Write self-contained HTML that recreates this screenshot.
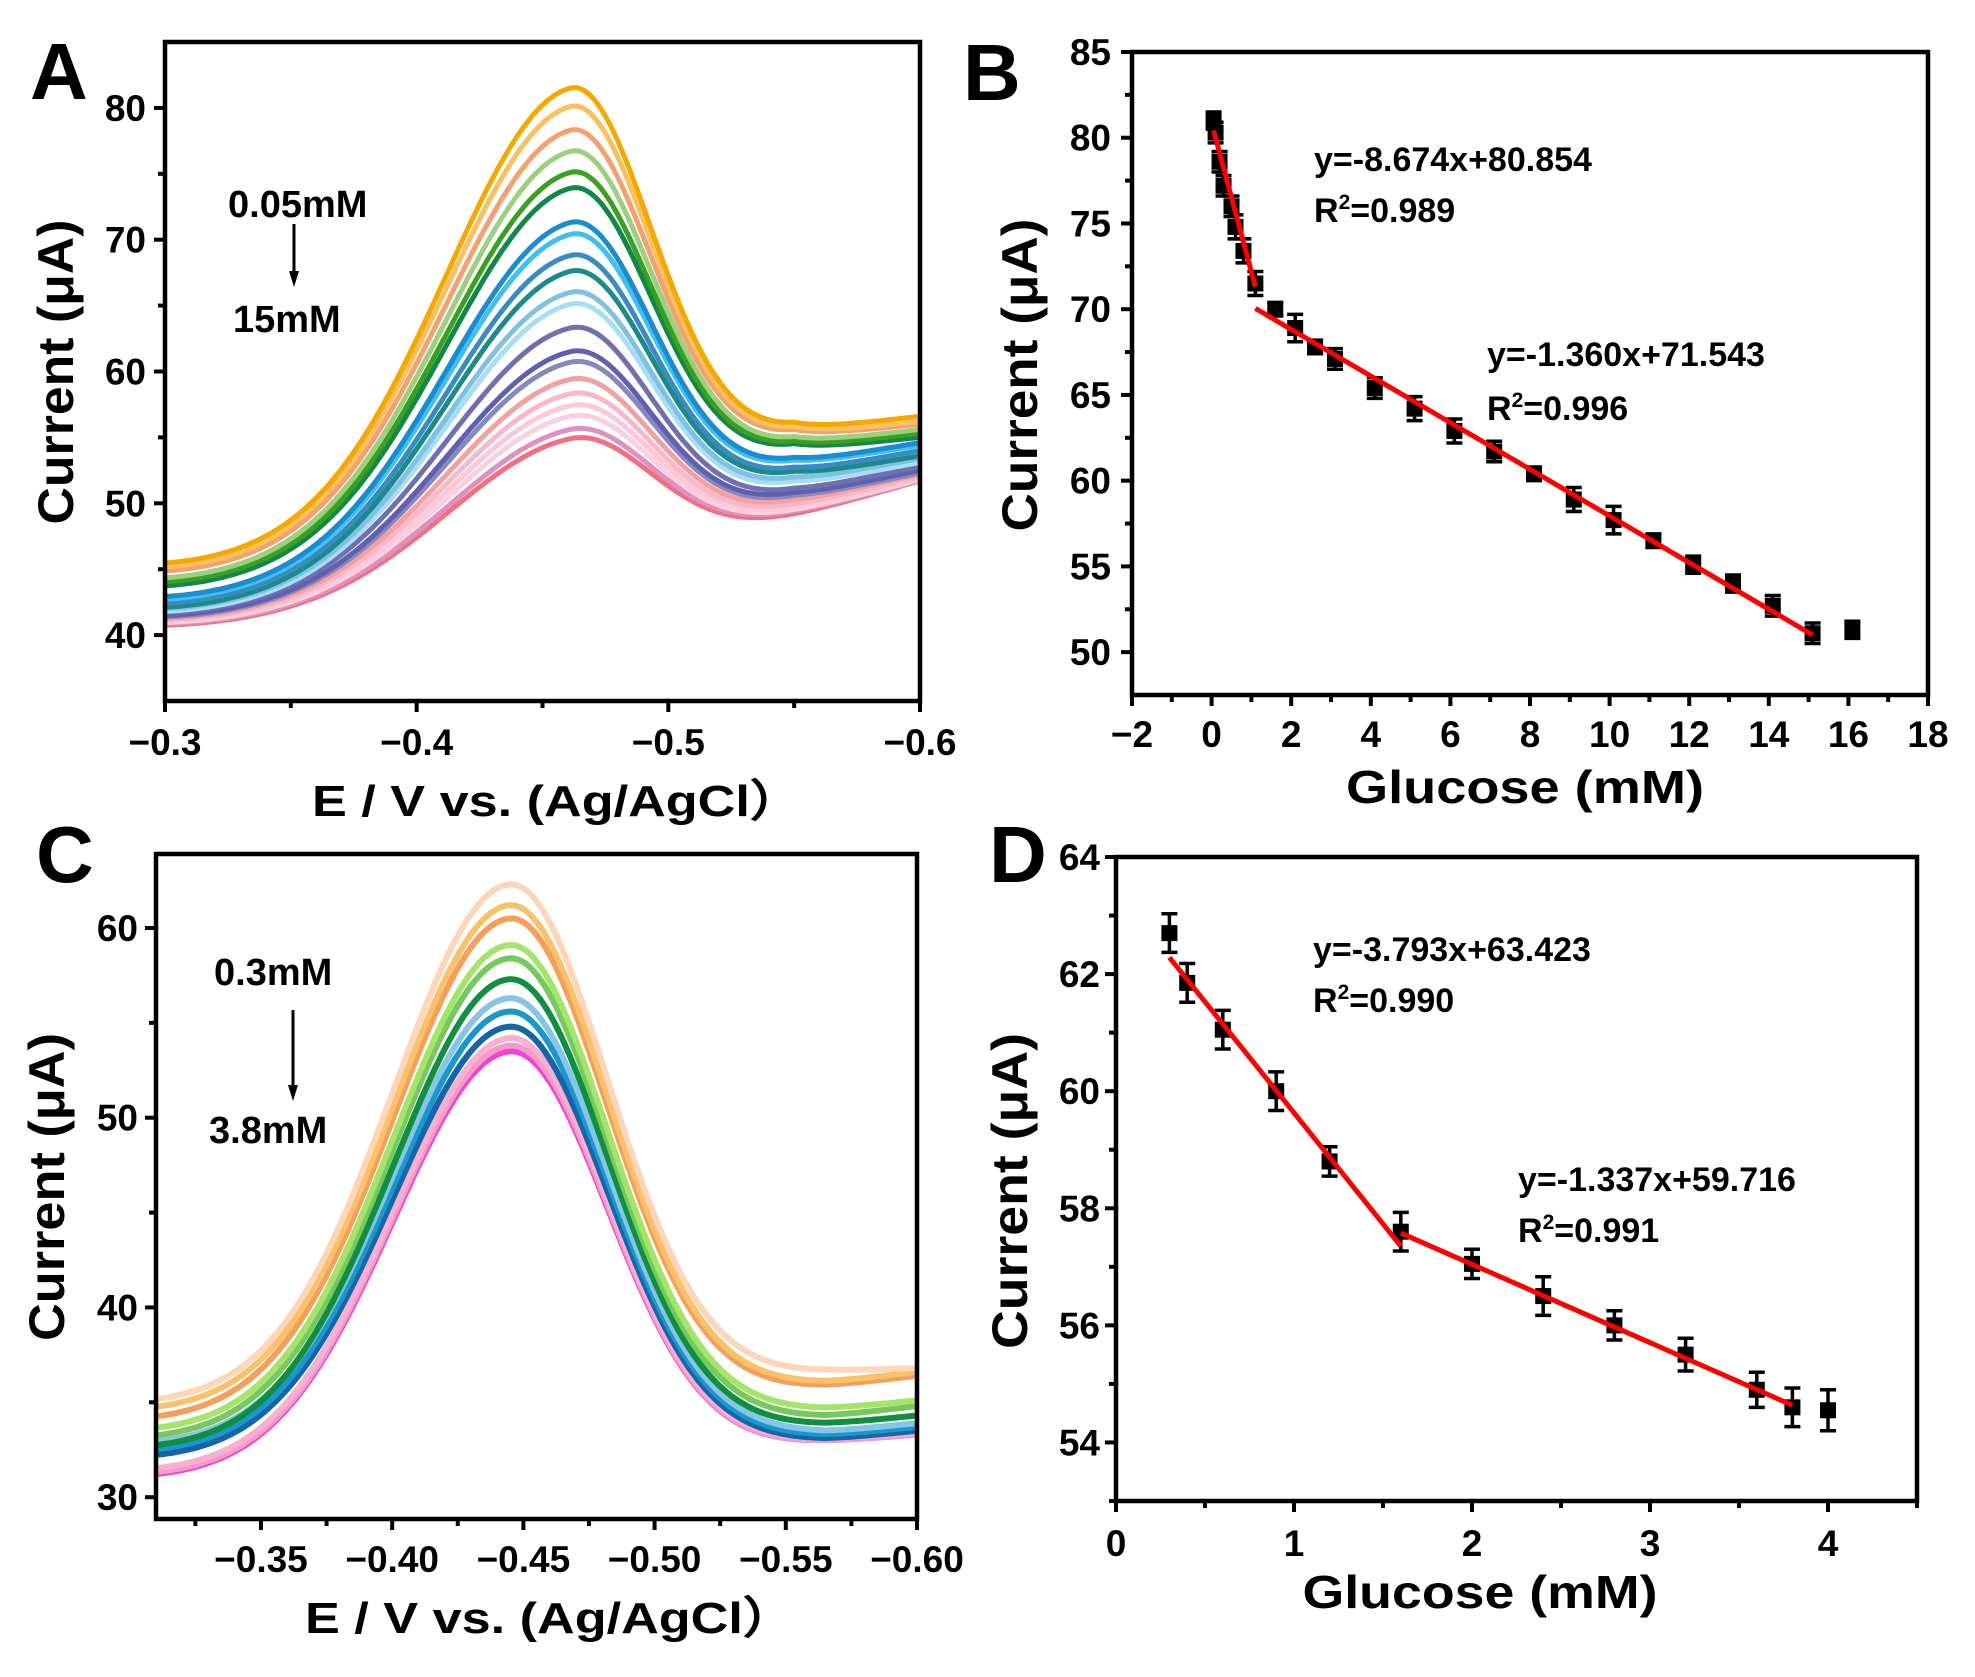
<!DOCTYPE html>
<html><head><meta charset="utf-8"><style>
html,body{margin:0;padding:0;background:#fff;}
svg{display:block;font-family:"Liberation Sans",Arial,sans-serif;font-weight:bold;}
</style></head><body>
<svg id="fig" width="1975" height="1677" viewBox="0 0 1975 1677" xmlns="http://www.w3.org/2000/svg">
<rect x="0" y="0" width="1975" height="1677" fill="#fff"/>
<g id="layer"></g>
</svg>
<script>
// ---------- Panel A data ----------
const aPeaks  = [81.5,80.1,78.3,76.7,75.1,73.9,71.3,70.4,68.8,67.6,66.0,65.1,63.3,61.5,60.7,59.4,58.3,57.4,56.6,55.6,54.9];
const aStarts = [45.3,45.0,44.7,44.2,43.9,43.6,42.8,42.6,42.3,42.0,41.9,41.7,41.6,41.4,41.3,41.2,41.1,41.0,40.9,40.8,40.7];
const aValleys= [55.5,55.2,55.0,54.5,54.2,54.0,53.0,52.8,52.3,52.0,51.6,51.3,50.8,50.5,50.3,50.0,49.7,49.5,49.3,49.2,49.0];
const aEnds   = [56.6,56.2,56.0,55.6,55.3,55.0,54.6,54.4,54.0,53.6,53.4,53.1,52.8,52.5,52.3,52.2,52.0,51.9,51.8,51.7,51.7];
const aColors = ["#f5a800","#f8c060","#f4a070","#9ccf80","#3aa020","#11884a","#1a8ccf","#40c0f0","#3a8cc0","#1a8a8a","#80c0e0","#a8def5","#7070b0","#6060b0","#8888c0","#f4a0a0","#f8b8c8","#fcc8d8","#f8d0e0","#e090c0","#f07080"];
const aXTicks = [-0.3,-0.4,-0.5,-0.6];
const aXLabels = ["\u22120.3","\u22120.4","\u22120.5","\u22120.6"];
const aYTicks = [40,50,60,70,80];

// ---------- Panel B data ----------
const bX   = [0.05,0.1,0.2,0.3,0.5,0.6,0.8,1.1,1.6,2.1,2.6,3.1,4.1,5.1,6.1,7.1,8.1,9.1,10.1,11.1,12.1,13.1,14.1,15.1,16.1];
const bY   = [81.0,80.3,78.6,77.2,76.0,74.8,73.4,71.5,70.0,68.9,67.8,67.1,65.4,64.2,62.9,61.7,60.4,58.9,57.7,56.5,55.1,54.0,52.7,51.1,51.3];
const bErr = [0.5,0.6,0.6,0.6,0.6,0.7,0.7,0.7,0.4,0.8,0.4,0.6,0.6,0.7,0.7,0.6,0.4,0.7,0.8,0.4,0.5,0.5,0.6,0.6,0.5];
const bFit1 = [-8.674,80.854,0.05,1.1];
const bFit2 = [-1.360,71.543,1.1,15.1];
const bXTicks = [-2,0,2,4,6,8,10,12,14,16,18];
const bYTicks = [50,55,60,65,70,75,80,85];

// ---------- Panel C data ----------
const cPeaks  = [62.3,61.2,60.5,59.1,58.4,57.3,56.3,55.6,54.8,54.2,53.8,53.5];
const cStarts = [34.9,34.5,34.0,33.4,33.0,32.5,32.7,32.3,32.0,31.3,31.1,31.0];
const cValleys= [36.6,36.0,35.8,34.6,34.2,33.8,33.4,33.2,33.0,33.0,32.9,32.9];
const cEnds   = [36.8,36.6,36.4,35.1,34.8,34.3,33.9,33.7,33.5,33.4,33.3,33.3];
const cColors = ["#fdd5b8","#f9c16a","#f5a05a","#a5e46a","#78c860","#0f8f3f","#86c5e6","#1a98cc","#1565a8","#f8b0d0","#f49ac8","#ee44d8"];
const cXTicks = [-0.35,-0.40,-0.45,-0.50,-0.55,-0.60];
const cXLabels = ["\u22120.35","\u22120.40","\u22120.45","\u22120.50","\u22120.55","\u22120.60"];
const cYTicks = [30,40,50,60];

// ---------- Panel D data ----------
const dX   = [0.3,0.4,0.6,0.9,1.2,1.6,2.0,2.4,2.8,3.2,3.6,3.8,4.0];
const dY   = [62.7,61.85,61.05,60.0,58.8,57.6,57.05,56.5,56.0,55.5,54.9,54.6,54.55];
const dErr = [0.33,0.33,0.33,0.33,0.25,0.33,0.25,0.33,0.25,0.28,0.3,0.33,0.35];
const dFit1 = [-3.793,63.423,0.3,1.6];
const dFit2 = [-1.337,59.716,1.6,3.8];
const dXTicks = [0,1,2,3,4];
const dYTicks = [54,56,58,60,62,64];

const NS = "http://www.w3.org/2000/svg";
const layer = document.getElementById("layer");
function mk(tag, attrs, parent){
  const e = document.createElementNS(NS, tag);
  for (const k in attrs) e.setAttribute(k, attrs[k]);
  (parent||layer).appendChild(e);
  return e;
}
function makeAxes(L,R,T,B,x0,x1,y0,y1){
  return {L,R,T,B,
    sx:v=>L+(v-x0)/(x1-x0)*(R-L),
    sy:v=>B-(v-y0)/(y1-y0)*(B-T)};
}
function frame(ax, name, xMaj, xMin, yMaj, yMin, xLab, yLab, xLabY, yLabX, fs){
  const g = mk("g",{});
  
  
  const box = mk("rect",{x:ax.L,y:ax.T,width:ax.R-ax.L,height:ax.B-ax.T,fill:"none",stroke:"#000","stroke-width":4.5},g);
  
  
  xMaj.forEach((v,i)=>{
    const x = ax.sx(v);
    mk("line",{x1:x,x2:x,y1:ax.B,y2:ax.B+11,stroke:"#000","stroke-width":4},g);
    const t = mk("text",{x:x,y:xLabY,"font-size":fs,"text-anchor":"middle"},g);
    t.textContent = xLab[i];
    
    
  });
  xMin.forEach(v=>{const x=ax.sx(v); mk("line",{x1:x,x2:x,y1:ax.B,y2:ax.B+7,stroke:"#000","stroke-width":4},g);});
  yMaj.forEach((v,i)=>{
    const y = ax.sy(v);
    mk("line",{x1:ax.L-11,x2:ax.L,y1:y,y2:y,stroke:"#000","stroke-width":4},g);
    const t = mk("text",{x:yLabX,y:y+13,"font-size":fs,"text-anchor":"end"},g);
    t.textContent = yLab[i];
    
    
  });
  yMin.forEach(v=>{const y=ax.sy(v); mk("line",{x1:ax.L-7,x2:ax.L,y1:y,y2:y,stroke:"#000","stroke-width":4},g);});
}
function title(txt, x, y, len, fs, rot, name){
  const t = mk("text",{x:x,y:y,"font-size":fs,"text-anchor":"middle",textLength:len,lengthAdjust:"spacingAndGlyphs"});
  if (rot) t.setAttribute("transform","rotate(-90 "+x+" "+y+")");
  t.textContent = txt;
  
  
  return t;
}
function label(txt, x, y, fs, name){
  const t = mk("text",{x:x,y:y,"font-size":fs});
  t.textContent = txt;
  
  
  return t;
}
function arrow(x, y1, y2, name){
  const g = mk("g",{});
  
  
  mk("line",{x1:x,x2:x,y1:y1,y2:y2-12,stroke:"#000","stroke-width":3},g);
  mk("polygon",{points:(x-5)+","+(y2-16)+" "+(x+5)+","+(y2-16)+" "+x+","+y2,fill:"#000"},g);
}
function curves(ax, name, peaks, starts, valleys, ends, colors, x0, xp, xv, x1, sl, sr, sw){
  for (let i=peaks.length-1;i>=0;i--){
    const base = x => {
      if ((x-xv)*(x0-xv) >= 0) { const t=(x-x0)/(xv-x0); return starts[i]+(valleys[i]-starts[i])*Math.pow(t,1.6); }
      const t=(x-xv)/(x1-xv); return valleys[i]+(ends[i]-valleys[i])*t;
    };
    const amp = peaks[i]-base(xp);
    let d = "";
    const n = 300;
    for (let k=0;k<=n;k++){
      const x = x0+(x1-x0)*k/n;
      const dx = Math.abs(x-xp);
      const s = ((x-xp)*(x1-x0) < 0) ? sl : sr;
      const y = base(x)+amp*Math.exp(-dx*dx/(2*s*s));
      d += (k?"L":"M")+ax.sx(x).toFixed(1)+","+ax.sy(y).toFixed(1);
    }
    const p = mk("path",{d:d,fill:"none",stroke:colors[i],"stroke-width":sw,"stroke-linejoin":"round"});
    
    
  }
}
function scatter(ax, name, xs, ys, errs, fits){
  xs.forEach((v,i)=>{
    const x=ax.sx(v), y=ax.sy(ys[i]), yt=ax.sy(ys[i]+errs[i]), yb=ax.sy(ys[i]-errs[i]);
    const g = mk("g",{});
    
    
    mk("line",{x1:x,x2:x,y1:yt,y2:yb,stroke:"#000","stroke-width":3.5},g);
    mk("line",{x1:x-8,x2:x+8,y1:yt,y2:yt,stroke:"#000","stroke-width":3.5},g);
    mk("line",{x1:x-8,x2:x+8,y1:yb,y2:yb,stroke:"#000","stroke-width":3.5},g);
    mk("rect",{x:x-8,y:y-8,width:16,height:16,fill:"#000"},g);
  });
  fits.forEach((f,j)=>{
    const l = mk("line",{x1:ax.sx(f[2]),y1:ax.sy(f[0]*f[2]+f[1]),x2:ax.sx(f[3]),y2:ax.sy(f[0]*f[3]+f[1]),stroke:"#ff0000","stroke-width":5});
    
    
  });
}
function eqn(x, y1, y2, eq, r2, name){
  label(eq, x, y1, 34, name+'-equation');
  const t = mk("text",{x:x,y:y2,"font-size":34});
  
  
  t.appendChild(document.createTextNode("R"));
  const s = mk("tspan",{dy:-13,"font-size":21},t); s.textContent="2";
  const s2 = mk("tspan",{dy:13},t); s2.textContent="="+r2;
}

// ===== Panel A =====
const axA = makeAxes(165,920,42,701,-0.3,-0.6,35,85);
curves(axA,"panel-a",aPeaks,aStarts,aValleys,aEnds,aColors,-0.3,-0.461,-0.55,-0.6,0.05,0.032,5);
frame(axA,"panel-a",aXTicks,[-0.35,-0.45,-0.55],aYTicks,[45,55,65,75],aXLabels,aYTicks.map(String),755,146,37);
title("Current (\u03bcA)",73,372,305,50,true,"panel-a-y-axis-title");
title("E / V  vs. (Ag/AgCl\uff09",557,816,490,44,false,"panel-a-x-axis-title");
label("A",30,99,80,"panel-a-letter");
label("0.05mM",228,217,38,"panel-a-start-label");
arrow(294,224,287,"panel-a-arrow");
label("15mM",233,332,38,"panel-a-end-label");

// ===== Panel B =====
const axB = makeAxes(1132,1928,52,695,-2,18,47.5,85);
scatter(axB,"panel-b",bX,bY,bErr,[bFit1,bFit2]);
frame(axB,"panel-b",bXTicks,[-1,1,3,5,7,9,11,13,15,17],bYTicks,[52.5,57.5,62.5,67.5,72.5,77.5,82.5],bXTicks.map(v=>v<0?"\u2212"+(-v):String(v)),bYTicks.map(String),747,1111,37);
title("Current (\u03bcA)",1037,375,313,50,true,"panel-b-y-axis-title");
title("Glucose (mM)",1525,803,358,46,false,"panel-b-x-axis-title");
label("B",963,100,80,"panel-b-letter");
eqn(1314,171,222,"y=-8.674x+80.854","0.989","panel-b-fit1");
eqn(1487,366,420,"y=-1.360x+71.543","0.996","panel-b-fit2");

// ===== Panel C =====
const axC = makeAxes(156,917,854,1519,-0.31,-0.60,28.85,63.9);
curves(axC,"panel-c",cPeaks,cStarts,cValleys,cEnds,cColors,-0.31,-0.445,-0.565,-0.60,0.0445,0.037,6);
frame(axC,"panel-c",cXTicks,[-0.325,-0.375,-0.425,-0.475,-0.525,-0.575],cYTicks,[35,45,55],cXLabels,cYTicks.map(String),1572,138,37);
title("Current (\u03bcA)",64,1187,308,50,true,"panel-c-y-axis-title");
title("E / V  vs. (Ag/AgCl\uff09",550,1633,490,44,false,"panel-c-x-axis-title");
label("C",36,882,80,"panel-c-letter");
label("0.3mM",214,985,38,"panel-c-start-label");
arrow(293,1010,1101,"panel-c-arrow");
label("3.8mM",209,1143,38,"panel-c-end-label");

// ===== Panel D =====
const axD = makeAxes(1116,1917,857,1501,0,4.5,53,64);
scatter(axD,"panel-d",dX,dY,dErr,[dFit1,dFit2]);
frame(axD,"panel-d",dXTicks,[0.5,1.5,2.5,3.5,4.5],dYTicks,[53,55,57,59,61,63],dXTicks.map(String),dYTicks.map(String),1556,1100,37);
title("Current (\u03bcA)",1027,1191,316,50,true,"panel-d-y-axis-title");
title("Glucose (mM)",1480,1608,355,46,false,"panel-d-x-axis-title");
label("D",989,882,80,"panel-d-letter");
eqn(1313,961,1012,"y=-3.793x+63.423","0.990","panel-d-fit1");
eqn(1518,1191,1242,"y=-1.337x+59.716","0.991","panel-d-fit2");
</script>
</body></html>
